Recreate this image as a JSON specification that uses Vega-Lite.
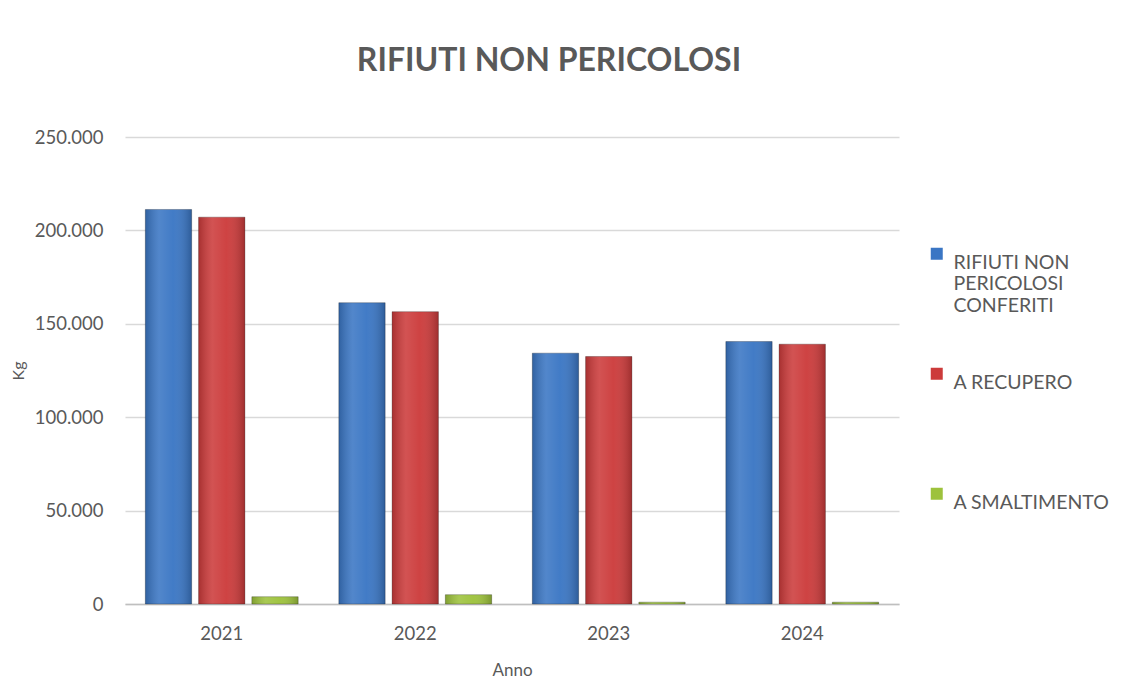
{
  "$schema": "https://vega.github.io/schema/vega-lite/v6.json",
  "width": 774,
  "height": 467,
  "autosize": {"type": "none"},
  "padding": {"left": 125, "top": 137, "right": 230, "bottom": 89},
  "background": "white",
  "title": {
    "text": "RIFIUTI NON PERICOLOSI",
    "font": "Lato",
    "fontSize": 32,
    "fontWeight": "bold",
    "color": "#595959",
    "anchor": "middle",
    "dx": 37,
    "offset": 50
  },
  "data": {
    "values": [
      {"anno": "2021", "serie": "RIFIUTI NON PERICOLOSI CONFERITI", "kg": 211200},
      {"anno": "2021", "serie": "A RECUPERO", "kg": 207100},
      {"anno": "2021", "serie": "A SMALTIMENTO", "kg": 3900},
      {"anno": "2022", "serie": "RIFIUTI NON PERICOLOSI CONFERITI", "kg": 161300},
      {"anno": "2022", "serie": "A RECUPERO", "kg": 156500},
      {"anno": "2022", "serie": "A SMALTIMENTO", "kg": 5000},
      {"anno": "2023", "serie": "RIFIUTI NON PERICOLOSI CONFERITI", "kg": 134300},
      {"anno": "2023", "serie": "A RECUPERO", "kg": 132500},
      {"anno": "2023", "serie": "A SMALTIMENTO", "kg": 1000},
      {"anno": "2024", "serie": "RIFIUTI NON PERICOLOSI CONFERITI", "kg": 140500},
      {"anno": "2024", "serie": "A RECUPERO", "kg": 139100},
      {"anno": "2024", "serie": "A SMALTIMENTO", "kg": 1000}
    ]
  },
  "encoding": {
    "x": {
      "field": "anno",
      "type": "nominal",
      "title": "Anno",
      "scale": {"paddingInner": 0.21, "paddingOuter": 0.105},
      "axis": {
        "labelAngle": 0,
        "ticks": false,
        "domainColor": "#BFBFBF",
        "domainWidth": 1.5,
        "labelPadding": 20,
        "labelFontSize": 18.5,
        "titleFontSize": 17,
        "titleFontWeight": "normal",
        "titlePadding": 20
      }
    },
    "xOffset": {
      "field": "serie",
      "type": "nominal",
      "scale": {
        "domain": ["RIFIUTI NON PERICOLOSI CONFERITI", "A RECUPERO", "A SMALTIMENTO"],
        "paddingInner": 0.13,
        "paddingOuter": 0
      }
    },
    "y": {
      "field": "kg",
      "type": "quantitative",
      "title": "Kg",
      "scale": {"domain": [0, 250000], "nice": false},
      "axis": {
        "values": [0, 50000, 100000, 150000, 200000, 250000],
        "format": ",.0f",
        "domain": false,
        "ticks": false,
        "gridColor": "#D9D9D9",
        "gridWidth": 1.5,
        "labelPadding": 22,
        "labelFontSize": 18.5,
        "titleFontSize": 16,
        "titleFontWeight": "normal",
        "titlePadding": 8
      }
    }
  },
  "layer": [
    {
      "mark": {"type": "bar", "stroke": "#000000", "strokeOpacity": 0.25, "strokeWidth": 1},
      "encoding": {
        "color": {
          "field": "serie",
          "type": "nominal",
          "scale": {
            "domain": ["RIFIUTI NON PERICOLOSI CONFERITI", "A RECUPERO", "A SMALTIMENTO"],
            "range": ["#3A76C4", "#CC3B3B", "#9DC23C"]
          },
          "legend": {
            "title": null,
            "orient": "none",
            "legendX": 802,
            "legendY": 107,
            "symbolType": "square",
            "symbolSize": 144,
            "symbolStrokeWidth": 0,
            "labelFontSize": 19.5,
            "labelColor": "#595959",
            "labelFont": "Lato",
            "labelLimit": 300,
            "labelBaseline": "top",
            "labelOffset": 7,
            "rowPadding": 48,
            "labelExpr": "datum.value == 'RIFIUTI NON PERICOLOSI CONFERITI' ? ['RIFIUTI NON', 'PERICOLOSI', 'CONFERITI'] : [datum.value, ' ', ' ']"
          }
        }
      }
    },
    {
      "mark": {
        "type": "bar",
        "fill": {
          "gradient": "linear",
          "x1": 0, "x2": 1, "y1": 0, "y2": 0,
          "stops": [
            {"offset": 0, "color": "rgba(0,0,0,0.18)"},
            {"offset": 0.3, "color": "rgba(255,255,255,0.12)"},
            {"offset": 0.6, "color": "rgba(255,255,255,0.04)"},
            {"offset": 1, "color": "rgba(0,0,0,0.22)"}
          ]
        }
      },
      "encoding": {}
    }
  ],
  "config": {
    "locale": {
      "number": {"decimal": ",", "thousands": ".", "grouping": [3], "currency": ["€", ""]}
    },
    "font": "Lato",
    "view": {"stroke": null},
    "axis": {
      "labelColor": "#595959",
      "titleColor": "#595959",
      "labelFont": "Lato",
      "titleFont": "Lato"
    }
  }
}
